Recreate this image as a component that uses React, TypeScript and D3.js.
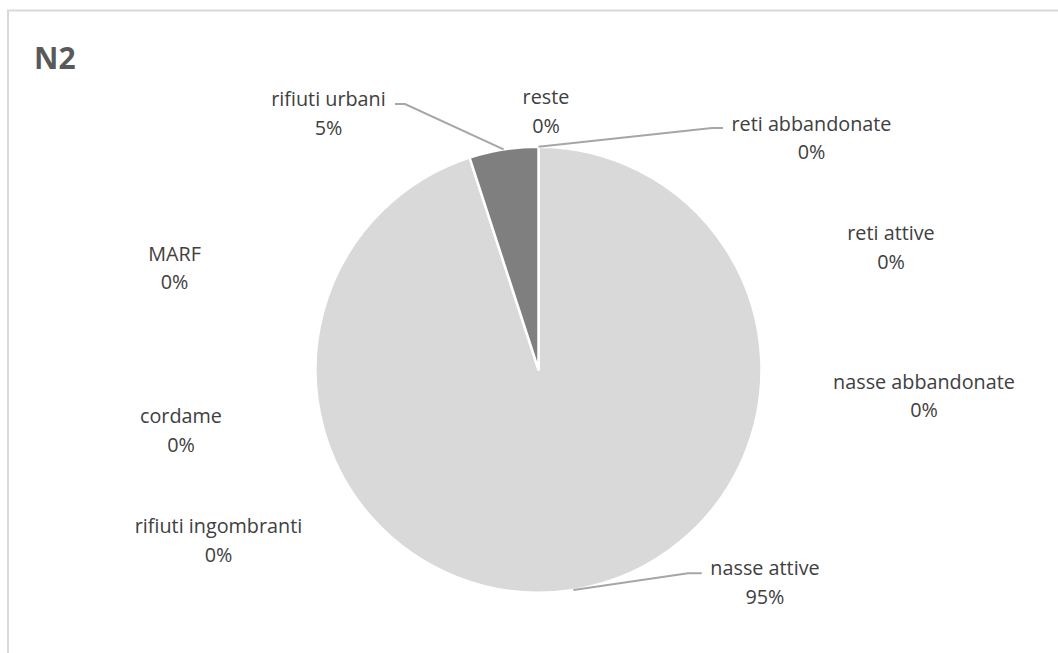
import React from "react";
import * as d3 from "d3";

const categories = [
  "reti abbandonate",
  "reti attive",
  "nasse abbandonate",
  "nasse attive",
  "rifiuti ingombranti",
  "cordame",
  "MARF",
  "rifiuti urbani",
  "reste",
];
const values = [0, 0, 0, 95, 0, 0, 0, 5, 0];
const sliceColors = ["#d9d9d9", "#d9d9d9", "#d9d9d9", "#d9d9d9", "#d9d9d9", "#d9d9d9", "#d9d9d9", "#7f7f7f", "#d9d9d9"];
const title = "N2";

// label layout: center x, baseline of first line
const labelPos: [number, number][] = [
  [811.5, 130.5],
  [891, 240],
  [924, 388.5],
  [765, 575],
  [218.5, 533],
  [181, 423],
  [174.5, 260.5],
  [328.5, 106],
  [546, 104],
];
// leader lines: index, elbow x, elbow y, end x
const leaders: [number, number, number, number][] = [
  [0, 712, 128, 723],
  [3, 688, 573.3, 701.7],
  [7, 405, 104, 395],
];

const W = 1058;
const H = 653;
const cx = 538.5;
const cy = 369.7;
const R = 223;
const lineGap = 28.5;

export default function App() {
  const total = d3.sum(values);
  const pie = d3.pie<number>().sort(null).value((d) => d).startAngle(0).endAngle(2 * Math.PI);
  const arcs = pie(values);
  const arc = d3.arc<d3.PieArcDatum<number>>().innerRadius(0).outerRadius(R);
  const fmt = (v: number) => `${Math.round((v / total) * 100)}%`;
  const edgePoint = (i: number) => {
    const a = (arcs[i].startAngle + arcs[i].endAngle) / 2;
    return [cx + R * Math.sin(a), cy - R * Math.cos(a)];
  };
  const font = "'Open Sans', sans-serif";
  return (
    <svg width={W} height={H} style={{ position: "absolute", left: 0, top: 0 }}>
      <rect x={0} y={0} width={W} height={H} fill="#ffffff" />
      <rect x={8} y={10.5} width={1200} height={800} fill="#ffffff" stroke="#d9d9d9" strokeWidth={2} />
      <text x={34} y={69.3} fontFamily={font} fontWeight={700} fontSize={30} fill="#595959">
        {title}
      </text>
      <g transform={`translate(${cx},${cy})`}>
        {arcs.map((a, i) =>
          a.endAngle - a.startAngle > 0 ? (
            <path key={i} d={arc(a) || ""} fill={sliceColors[i]} stroke="#ffffff" strokeWidth={2.5} strokeLinejoin="round" />
          ) : null
        )}
      </g>
      {leaders.map(([i, ex, ey, endX]) => {
        const [px, py] = edgePoint(i);
        return (
          <polyline
            key={i}
            points={`${px},${py} ${ex},${ey} ${endX},${ey}`}
            fill="none"
            stroke="#a6a6a6"
            strokeWidth={2}
          />
        );
      })}
      {categories.map((c, i) => (
        <text key={c} x={labelPos[i][0]} y={labelPos[i][1]} textAnchor="middle" fontFamily={font} fontSize={19.8} fill="#404040">
          <tspan x={labelPos[i][0]}>{c}</tspan>
          <tspan x={labelPos[i][0]} dy={lineGap}>
            {fmt(values[i])}
          </tspan>
        </text>
      ))}
    </svg>
  );
}
